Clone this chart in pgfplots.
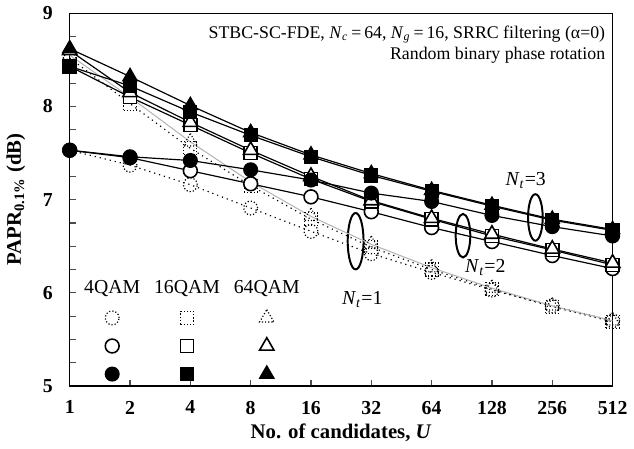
\documentclass[border=0pt]{standalone}
\usepackage{fontspec}
\setmainfont{Liberation Serif}
\usepackage{pgfplots}
\usepackage{pgfplotstable}
\pgfplotsset{compat=1.18}

% PAPR (dB) per number of candidates; columns: 4QAM, 16QAM, 64QAM
\pgfplotstableread{
x qa qb qc
0 7.53 8.52 8.55
1 7.37 8.03 8.10
2 7.16 7.55 7.62
3 6.91 7.15 7.19
4 6.66 6.79 6.82
5 6.42 6.49 6.52
6 6.22 6.25 6.27
7 6.03 6.04 6.05
8 5.86 5.85 5.86
9 5.70 5.69 5.70
}\ntone
\pgfplotstableread{
x qa qb qc
0 7.53 8.43 8.60
1 7.45 8.10 8.15
2 7.31 7.80 7.83
3 7.17 7.50 7.53
4 7.03 7.22 7.25
5 6.87 6.98 6.99
6 6.70 6.79 6.80
7 6.55 6.61 6.63
8 6.40 6.46 6.47
9 6.26 6.30 6.32
}\nttwo
\pgfplotstableread{
x qa qb qc
0 7.53 8.43 8.62
1 7.46 8.22 8.32
2 7.42 7.94 8.01
3 7.32 7.69 7.72
4 7.21 7.46 7.48
5 7.07 7.26 7.28
6 6.98 7.09 7.10
7 6.83 6.93 6.94
8 6.71 6.78 6.79
9 6.61 6.67 6.68
}\ntthree

\pgfplotsset{
  one/.style={black, dotted, line width=0.6pt},
  onemark/.style={mark options={solid, densely dotted, draw=black, line width=0.6pt}},
  two/.style={black, line width=0.6pt, mark options={solid, fill=white, draw=black, line width=0.8pt}},
  three/.style={black, line width=0.6pt, mark options={solid, fill=black}},
}

\begin{document}
\begin{tikzpicture}
\begin{axis}[
    scale only axis,
    width=274.5pt, height=188.5pt,
    xmin=0, xmax=9, ymin=5, ymax=9,
    xtick={0,1,2,3,4,5,6,7,8,9},
    xticklabels={1,2,4,8,16,32,64,128,256,512},
    ytick={5,6,7,8,9},
    minor y tick num=3,
    tick pos=left, tick align=inside,
    major tick length=3pt, minor tick length=3pt,
    tick style={black!70, line width=0.6pt},
    axis line style={line width=0.7pt},
    /pgf/number format/assume math mode=true,
    tick label style={font=\fontsize{10}{12}\selectfont\bfseries},
    xticklabel style={yshift=-4pt},
    yticklabel style={xshift=-5pt},
    xlabel={\bfseries No. of candidates, \textit{U}},
    ylabel={\bfseries PAPR\textsubscript{0.1\%} (dB)},
    label style={font=\fontsize{10.5}{12}\selectfont},
    xlabel style={yshift=2pt},
    ylabel style={yshift=2pt},
    legend columns=3,
    legend image code/.code={\draw[#1] plot coordinates {(0cm,0cm)};},
    legend style={at={(rel axis cs:0.227,0.148)}, anchor=center, draw=none, fill=none,
      inner sep=0pt, row sep=6.5pt, nodes={inner sep=0pt},
      /tikz/every odd column/.style={column sep=0pt},
      /tikz/every even column/.style={column sep=6pt}},
]
% group brackets
\draw[line width=1pt] (axis cs:4.74,6.554) ellipse [x radius=4pt, y radius=14.25pt];
\draw[line width=1pt] (axis cs:6.52,6.613) ellipse [x radius=3.7pt, y radius=11pt];
\draw[line width=1pt] (axis cs:7.72,6.809) ellipse [x radius=3.7pt, y radius=11.75pt];

\addlegendimage{legend image code/.code={\node[font=\fontsize{10}{12}\selectfont] at (0,0) {4QAM};}}
\addlegendentry{\mbox{}}
\addlegendimage{legend image code/.code={\node[font=\fontsize{10}{12}\selectfont] at (0,0) {16QAM};}}
\addlegendentry{\mbox{}}
\addlegendimage{legend image code/.code={\node[font=\fontsize{10}{12}\selectfont] at (0,0) {64QAM};}}
\addlegendentry{\mbox{}}

% N_t = 1
\addplot[one, mark=o, mark size=3.5pt, onemark] table[x=x, y=qa] {\ntone};
\addlegendentry{\mbox{}}
\addplot[one, mark=square, mark size=3.3pt, onemark] table[x=x, y=qb] {\ntone};
\addlegendentry{\mbox{}}
\addplot[gray!60, line width=0.5pt, mark=triangle, mark size=4.2pt, onemark] table[x=x, y=qc] {\ntone};
\addlegendentry{\mbox{}}
% N_t = 2
\addplot[two, mark=*, mark size=3.5pt] table[x=x, y=qa] {\nttwo};
\addlegendentry{\mbox{}}
\addplot[two, mark=square*, mark size=3.3pt] table[x=x, y=qb] {\nttwo};
\addlegendentry{\mbox{}}
\addplot[two, mark=triangle*, mark size=4.2pt] table[x=x, y=qc] {\nttwo};
\addlegendentry{\mbox{}}
% N_t = 3
\addplot[three, mark=*, mark size=3.5pt] table[x=x, y=qa] {\ntthree};
\addlegendentry{\mbox{}}
\addplot[three, mark=square*, mark size=3.3pt] table[x=x, y=qb] {\ntthree};
\addlegendentry{\mbox{}}
\addplot[three, mark=triangle*, mark size=4.2pt] table[x=x, y=qc] {\ntthree};
\addlegendentry{\mbox{}}

\node[font=\fontsize{10}{12}\selectfont] at (axis cs:4.85,5.93) {\textit{N}\textsubscript{\textit{t}}=1};
\node[font=\fontsize{10}{12}\selectfont] at (axis cs:6.89,6.27) {\textit{N}\textsubscript{\textit{t}}=2};
\node[font=\fontsize{10}{12}\selectfont] at (axis cs:7.56,7.20) {\textit{N}\textsubscript{\textit{t}}=3};

\node[anchor=north east, align=right, font=\fontsize{9}{11}\selectfont, inner sep=0pt]
  at (rel axis cs:0.987,0.968)
  {STBC-SC-FDE, \textit{N}\textsubscript{\textit{c}}\,=\,64, \textit{N}\textsubscript{\textit{g}}\,=\,16, SRRC filtering (α=0)\\
   Random binary phase rotation};
\end{axis}
\end{tikzpicture}
\end{document}
